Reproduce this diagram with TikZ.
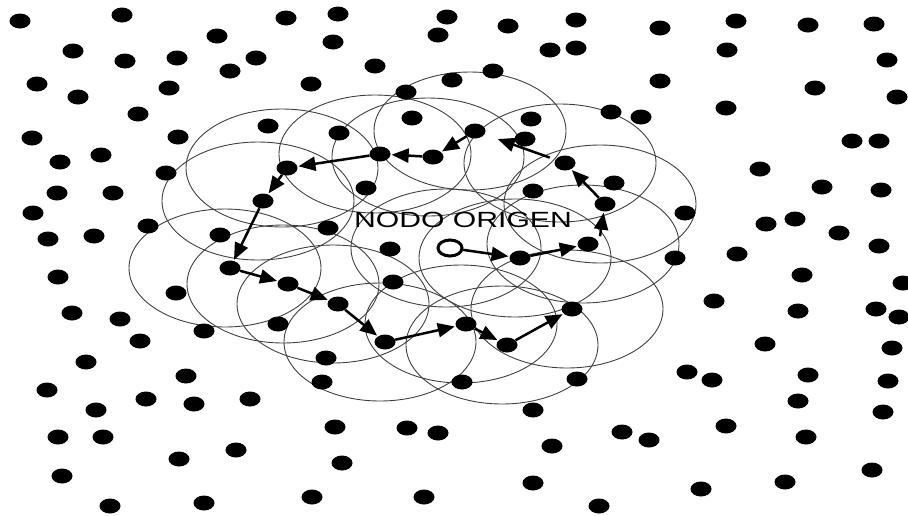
\documentclass[tikz,border=0pt]{standalone}
\usepackage{fontspec}
\setmainfont{Liberation Sans}
\usetikzlibrary{arrows.meta,shapes.geometric,backgrounds}

\tikzset{
  dot/.style={ellipse, fill=black, inner sep=0pt, minimum width=21pt, minimum height=15pt},
  origin/.style={ellipse, draw=black, line width=3pt, inner sep=0pt, minimum width=24pt, minimum height=16pt},
  hop/.style={-{Triangle[length=17pt,width=14pt]}, line width=2.5pt, shorten >=1pt},
  coverage/.style={draw=black!75, line width=0.9pt}
}

\begin{document}
\begin{tikzpicture}[x=1pt, y=-1pt]
\useasboundingbox (0,0) rectangle (908,515);
% scattered nodes
\foreach \x/\y [count=\i] in {
  20/21, 122/15, 286/18, 338/14, 447/17, 217/36, 333/42, 438/35, 73/51, 125/61,
  177/58, 230/71, 256/58, 375/66, 37/84, 78/97, 169/88, 311/84, 452/80, 406/92,
  138/114, 412/118, 32/138, 178/137, 268/126, 339/133, 60/162, 101/155, 166/173, 57/193,
  113/193, 366/188, 33/213, 48/239, 94/236, 148/226, 220/235, 328/228, 390/249,
  508/26, 576/20, 660/28, 736/21, 808/25, 874/24, 550/50, 576/48, 727/50, 887/60,
  493/71, 660/81, 815/88, 897/97, 726/108, 611/112, 641/117, 531/119, 525/139, 852/141,
  879/141, 760/169, 614/183, 822/187, 881/190, 533/191, 685/213, 766/224, 795/219, 839/233,
  879/246, 737/254, 675/258,
  58/277, 176/293, 393/282, 72/313, 120/319, 204/331, 278/324, 140/341, 86/362, 326/358,
  186/376, 322/382, 47/390, 146/399, 194/404, 250/399, 96/410, 335/427, 407/428, 438/433,
  58/437, 103/437, 236/450, 179/459, 342/463, 62/476, 312/497, 424/497, 110/506, 204/503,
  802/275, 903/283, 714/301, 798/311, 876/309, 899/317, 765/344, 892/348, 687/372, 712/380,
  808/375, 888/381, 462/382, 577/379, 798/401, 533/410, 883/412, 726/426, 622/432, 649/440,
  806/437, 552/446, 872/470, 533/483, 785/482, 701/489, 599/506}
  { \node[dot] (d\i) at (\x,\y) {}; }
% nodes along the route
\node[origin] (orig) at (450,248) {};
\foreach \n/\x/\y in {r1/520/258, r2/588/244, r3/605/204, r4/565/163, r5/475/131,
  r6/433/157, r7/380/154, r8/287/168, r9/263/201, r10/230/268, r11/288/284,
  r12/338/304, r13/385/342, r14/466/324, r15/507/345, r16/572/309}
  { \node[dot] (\n) at (\x,\y) {}; }
% coverage ranges
\begin{scope}[on background layer]
\draw[coverage] ([xshift=-4pt]orig.center) ellipse [x radius=95pt, y radius=59pt];
\foreach \i in {1,...,16}
  \draw[coverage] ([xshift=-5pt]r\i.center) ellipse [x radius=96pt, y radius=59pt];
\end{scope}
% route
\draw[hop] (orig) -- (r1);
\draw[hop] (r1) -- (r2);
\draw[hop] ([xshift=12pt]r2.north) -- (r3);
\draw[hop, shorten <=6pt, shorten >=14pt] (r4) -- (r5);
\foreach \a/\b in {r3/r4, r5/r6, r6/r7, r7/r8, r8/r9, r9/r10, r10/r11,
  r11/r12, r12/r13, r13/r14, r14/r15, r15/r16}
  \draw[hop] (\a) -- (\b);
% label
\node[font=\fontsize{22}{22}\selectfont, xscale=1.37, inner sep=0pt] (lbl) at (463,220) {NODO ORIGEN};
\end{tikzpicture}
\end{document}
